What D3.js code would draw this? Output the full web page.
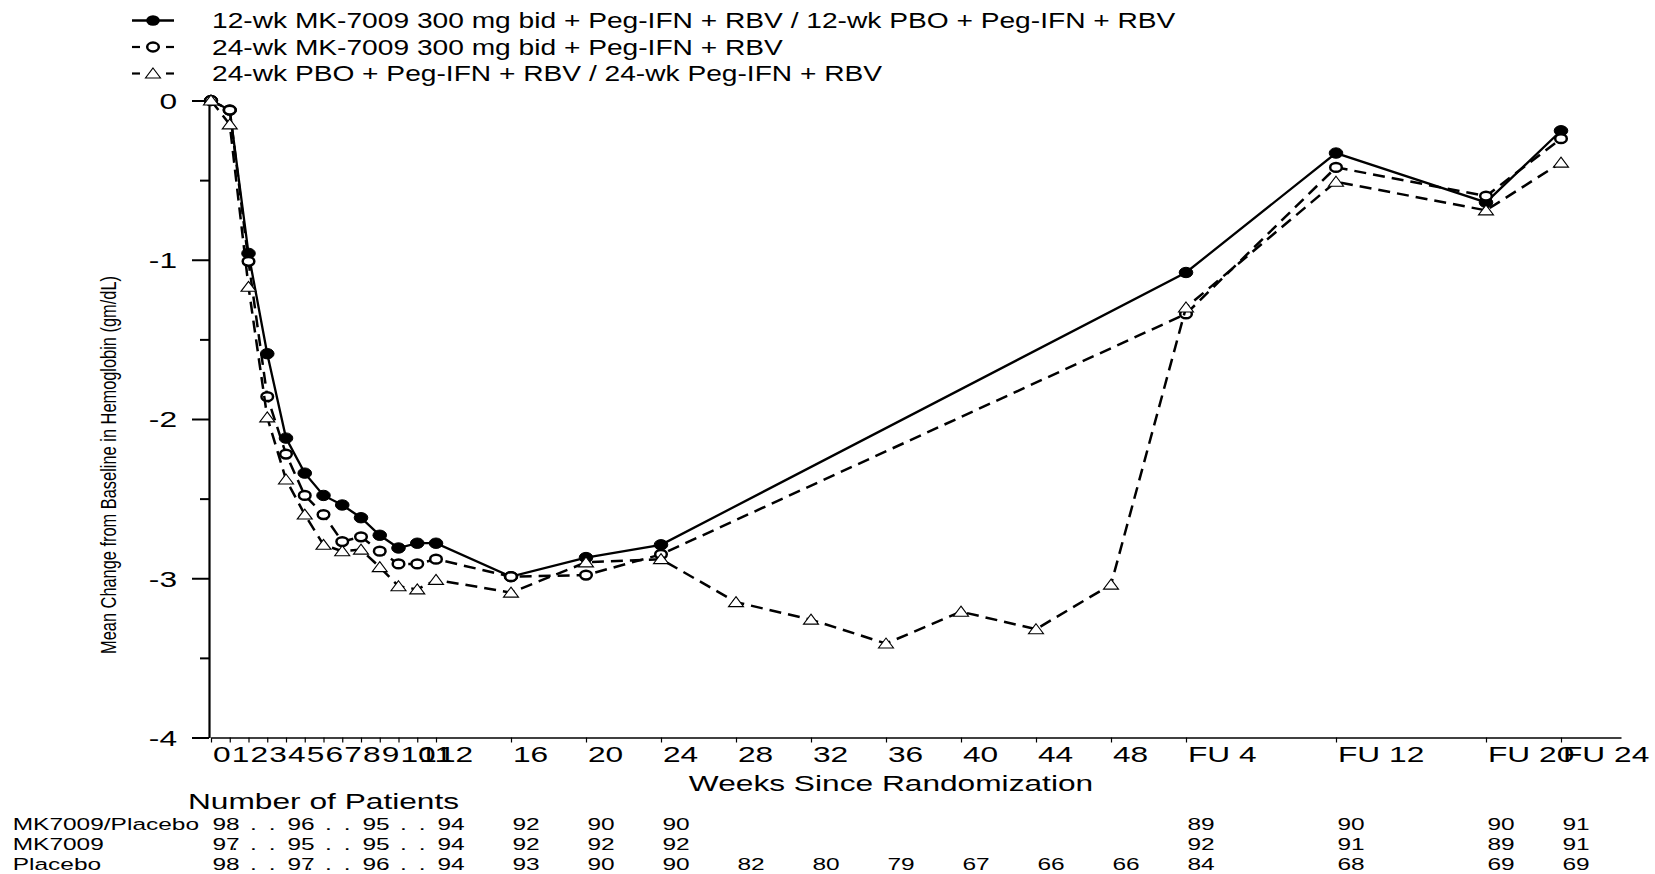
<!DOCTYPE html>
<html><head><meta charset="utf-8">
<script src="https://cdn.jsdelivr.net/npm/d3@7"></script>
<style>
body{margin:0;background:#fff}
svg{display:block}
text{font-family:"Liberation Sans",Arial,sans-serif;fill:#000}
</style>
</head><body>
<svg id="chart" width="1655" height="874"></svg>
<script>
// ---------- data ----------
const weeksMK = [0,1,2,3,4,5,6,7,8,9,10,11,12,16,20,24,52,60,68,72];
const weeksPBO = [0,1,2,3,4,5,6,7,8,9,10,11,12,16,20,24,28,32,36,40,44,48,52,60,68,72];
const mk12 = [0,-0.06,-0.96,-1.59,-2.12,-2.34,-2.48,-2.54,-2.62,-2.73,-2.81,-2.78,-2.78,-2.99,-2.87,-2.79,-1.08,-0.33,-0.64,-0.19];
const mk24 = [0,-0.06,-1.01,-1.86,-2.22,-2.48,-2.60,-2.77,-2.74,-2.83,-2.91,-2.91,-2.88,-2.99,-2.98,-2.85,-1.34,-0.42,-0.60,-0.24];
const pbo  = [0,-0.15,-1.17,-1.99,-2.38,-2.60,-2.79,-2.83,-2.82,-2.93,-3.05,-3.07,-3.01,-3.09,-2.90,-2.88,-3.15,-3.26,-3.41,-3.21,-3.32,-3.04,-1.30,-0.51,-0.69,-0.39];

const tickWeeks  = [0,1,2,3,4,5,6,7,8,9,10,11,12,16,20,24,28,32,36,40,44,48,52,60,68,72];
const tickLabels = ["0","1","2","3","4","5","6","7","8","9","10","11","12","16","20","24","28","32","36","40","44","48","FU 4","FU 12","FU 20","FU 24"];
const yTicks = [0,-1,-2,-3,-4];
const yMinorTicks = [-0.5,-1.5,-2.5,-3.5];

const legendLabels = [
  "12-wk MK-7009 300 mg bid + Peg-IFN + RBV / 12-wk PBO + Peg-IFN + RBV",
  "24-wk MK-7009 300 mg bid + Peg-IFN + RBV",
  "24-wk PBO + Peg-IFN + RBV / 24-wk Peg-IFN + RBV"
];
const rowLabels = ["MK7009/Placebo","MK7009","Placebo"];
const nMK12 = ["98",".",".",".","96",".",".",".","95",".",".",".","94","92","90","90","","","","","","","89","90","90","91"];
const nMK24 = ["97",".",".",".","95",".",".",".","95",".",".",".","94","92","92","92","","","","","","","92","91","89","91"];
const nPBO  = ["98",".",".",".","97",".",".",".","96",".",".",".","94","93","90","90","82","80","79","67","66","66","84","68","69","69"];

// ---------- setup ----------
const svg = d3.select("#chart");
const SX = 1.44; // horizontal stretch of the graph font
const x = d3.scaleLinear().domain([0, 75.2]).range([211, 1621]);
const y = d3.scaleLinear().domain([0, -4]).range([100.5, 737.5]);

function sText(parent, px, py, str, size, sx, anchor) {
  return parent.append("text")
    .attr("transform", `translate(${px},${py}) scale(${sx},1)`)
    .attr("text-anchor", anchor || "start")
    .style("font-size", size + "px")
    .text(str);
}

// ---------- axes ----------
const xAxis = d3.axisBottom(x).tickValues(tickWeeks).tickSize(5).tickSizeOuter(0).tickFormat((d,i)=>tickLabels[i]);
const gx = svg.append("g").attr("transform", `translate(0,${y(-4)})`).call(xAxis);
gx.select(".domain").attr("stroke","#000").attr("stroke-width",1.6);
gx.selectAll(".tick line").attr("stroke","#000").attr("stroke-width",1.2);
gx.selectAll(".tick text")
  .attr("x", null).attr("y", null).attr("dy", null)
  .attr("text-anchor","start")
  .attr("transform", `translate(1.5,24.5) scale(${SX},1)`)
  .style("font-size","22px").style("font-family",'"Liberation Sans",Arial,sans-serif').attr("fill","#000");

const yAxisX = 209;
const yAxis = d3.axisLeft(y).tickValues(yTicks).tickSize(17).tickSizeOuter(0).tickFormat(d3.format("d"));
const gy = svg.append("g").attr("transform", `translate(${yAxisX},0)`).call(yAxis);
gy.select(".domain").attr("stroke","#000").attr("stroke-width",2.2);
gy.selectAll(".tick line").attr("stroke","#000").attr("stroke-width",2);
gy.selectAll(".tick text")
  .attr("x", null).attr("dy", "0.36em")
  .attr("text-anchor","end")
  .attr("transform", `translate(-32,0) scale(${SX},1)`)
  .text(d => d === 0 ? "0" : "-" + Math.abs(d))
  .style("font-size","22px").style("font-family",'"Liberation Sans",Arial,sans-serif').attr("fill","#000");
const yMinor = d3.axisLeft(y).tickValues(yMinorTicks).tickSize(9).tickFormat("");
const gym = svg.append("g").attr("transform", `translate(${yAxisX},0)`).call(yMinor);
gym.select(".domain").remove();
gym.selectAll(".tick line").attr("stroke","#000").attr("stroke-width",2);

// axis titles
svg.append("text")
  .attr("transform", `translate(115.5,465) rotate(-90)`)
  .attr("text-anchor","middle")
  .attr("textLength", 378).attr("lengthAdjust","spacingAndGlyphs")
  .style("font-size","22px")
  .text("Mean Change from Baseline in Hemoglobin (gm/dL)");
sText(svg, 891, 791, "Weeks Since Randomization", 22, SX, "middle");

// ---------- series ----------
function ellipseMarker(g, pts, rx, ry, fill, stroke, sw) {
  g.selectAll(null).data(pts).enter().append("ellipse")
    .attr("cx", d=>x(d[0])).attr("cy", d=>y(d[1]))
    .attr("rx", rx).attr("ry", ry)
    .attr("fill", fill).attr("stroke", stroke).attr("stroke-width", sw);
}
function triMarker(g, pts) {
  const tri = (cx, cy) => `M${cx},${cy-5.5} L${cx+7.5},${cy+4.5} L${cx-7.5},${cy+4.5} Z`;
  g.selectAll(null).data(pts).enter().append("path")
    .attr("d", d=>tri(x(d[0]), y(d[1])))
    .attr("fill","#fff").attr("stroke","#000").attr("stroke-width",1.1);
}
const line = d3.line().x(d=>x(d[0])).y(d=>y(d[1]));

const s1 = weeksMK.map((w,i)=>[w, mk12[i]]);
const s2 = weeksMK.map((w,i)=>[w, mk24[i]]);
const s3 = weeksPBO.map((w,i)=>[w, pbo[i]]);

const g1 = svg.append("g");
g1.append("path").attr("d", line(s1)).attr("fill","none").attr("stroke","#000").attr("stroke-width",2.3);
ellipseMarker(g1, s1, 6.8, 5.2, "#000", "#000", 1);

const g2 = svg.append("g");
g2.append("path").attr("d", line(s2)).attr("fill","none").attr("stroke","#000").attr("stroke-width",2.5).attr("stroke-dasharray","12,7");
ellipseMarker(g2, s2, 5.8, 4.4, "#fff", "#000", 2.5);

const g3 = svg.append("g");
g3.append("path").attr("d", line(s3)).attr("fill","none").attr("stroke","#000").attr("stroke-width",2.5).attr("stroke-dasharray","12,7");
triMarker(g3, s3);

// ---------- legend ----------
const legY = [20.5, 47, 73.5];
const lg = svg.append("g");
// row 1
lg.append("line").attr("x1",132).attr("x2",174).attr("y1",legY[0]).attr("y2",legY[0]).attr("stroke","#000").attr("stroke-width",2.3);
lg.append("ellipse").attr("cx",153).attr("cy",legY[0]).attr("rx",6.8).attr("ry",5.2).attr("fill","#000");
// row 2
[[132,140],[166,174]].forEach(s=>lg.append("line").attr("x1",s[0]).attr("x2",s[1]).attr("y1",legY[1]).attr("y2",legY[1]).attr("stroke","#000").attr("stroke-width",2.2));
lg.append("ellipse").attr("cx",153).attr("cy",legY[1]).attr("rx",5.8).attr("ry",4.4).attr("fill","#fff").attr("stroke","#000").attr("stroke-width",2.5);
// row 3
[[132,140],[166,174]].forEach(s=>lg.append("line").attr("x1",s[0]).attr("x2",s[1]).attr("y1",legY[2]).attr("y2",legY[2]).attr("stroke","#000").attr("stroke-width",2.2));
lg.append("path").attr("d",`M153,${legY[2]-5.5} L160.5,${legY[2]+4.5} L145.5,${legY[2]+4.5} Z`).attr("fill","#fff").attr("stroke","#000").attr("stroke-width",1.1);
legendLabels.forEach((t,i)=> sText(lg, 212, legY[i]+7.8, t, 22, 1.28, "start"));

// ---------- patient table ----------
sText(svg, 188, 808.5, "Number of Patients", 22, SX, "start");
const rowsY = [830, 850, 870];
const tableData = [nMK12, nMK24, nPBO];
rowLabels.forEach((r,i)=> sText(svg, 12.7, rowsY[i], r, 17, SX, "start"));
tableData.forEach((row,i)=>{
  row.forEach((v,j)=>{ if (v !== "") sText(svg, x(tickWeeks[j]) + 1.5, rowsY[i], v, 17, SX, "start"); });
});
</script>
</body></html>
